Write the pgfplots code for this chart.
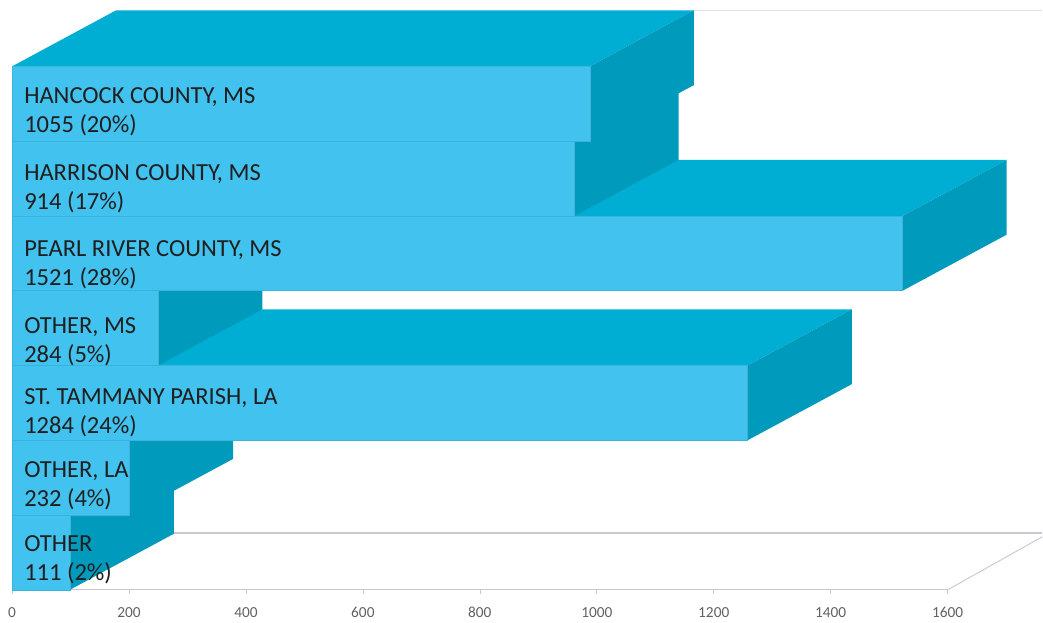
\documentclass[border=0pt]{standalone}
\usepackage{fontspec}
\setmainfont{Carlito}
\usepackage{pgfplots}
\pgfplotsset{compat=1.18}
\definecolor{barfront}{HTML}{42C2EE}
\definecolor{bartop}{HTML}{00AED4}
\definecolor{barside}{HTML}{009ABC}
\definecolor{wall}{HTML}{C8C8D2}
\pgfplotsset{
  front/.style={fill=barfront,draw=barfront!92!black,line width=0.4pt},
  top/.style={fill=bartop,draw=none},
  side/.style={fill=barside,draw=none},
}
\begin{document}
\begin{tikzpicture}
\begin{axis}[
    anchor=origin,
    at={(0pt,0pt)},
    scale only axis,
    width=773.25pt, height=442.5pt,
    xmin=0, xmax=1762.4,
    ymin=0, ymax=7.888,
    axis x line=bottom,
    axis y line=none,
    x axis line style={draw=none,-},
    xtick={0,200,400,600,800,1000,1200,1400,1600},
    tick align=outside,
    major tick length=3pt,
    tick style={wall,line width=0.5pt},
    x tick label style={font=\fontsize{11.5}{13}\selectfont,text=black!62,yshift=-6.5pt},
    /pgf/number format/1000 sep={},
    /pgf/number format/assume math mode=true,
    clip=false,
]
% wall and floor lines
\addplot[wall,line width=0.9pt] coordinates {(0,0) (1600,0)};
\addplot[wall,line width=0.7pt] coordinates {(1600,0) (1762,0.71)};
\addplot[wall,line width=0.9pt] coordinates {(277,0.76) (1762,0.76)};
\addplot[black!12,line width=0.7pt] coordinates {(1166,7.75) (1762,7.75)};

% OTHER
\addplot[top] coordinates {(0,1) (178,1.75) (277,1.75) (99,1)} -- cycle;
\addplot[side] coordinates {(99,1) (277,1.75) (277,0.75) (99,0)} -- cycle;
\addplot[front] coordinates {(0,0) (99,0) (99,1) (0,1)} -- cycle;
% OTHER, LA
\addplot[top] coordinates {(0,2) (178,2.75) (378,2.75) (200,2)} -- cycle;
\addplot[side] coordinates {(200,2) (378,2.75) (378,1.75) (200,1)} -- cycle;
\addplot[front] coordinates {(0,1) (200,1) (200,2) (0,2)} -- cycle;
% ST. TAMMANY PARISH, LA
\addplot[top] coordinates {(0,3) (178,3.75) (1436,3.75) (1258,3)} -- cycle;
\addplot[side] coordinates {(1258,3) (1436,3.75) (1436,2.75) (1258,2)} -- cycle;
\addplot[front] coordinates {(0,2) (1258,2) (1258,3) (0,3)} -- cycle;
% OTHER, MS
\addplot[top] coordinates {(0,4) (178,4.75) (428,4.75) (250,4)} -- cycle;
\addplot[side] coordinates {(250,4) (428,4.75) (428,3.75) (250,3)} -- cycle;
\addplot[front] coordinates {(0,3) (250,3) (250,4) (0,4)} -- cycle;
% PEARL RIVER COUNTY, MS
\addplot[top] coordinates {(0,5) (178,5.75) (1701,5.75) (1523,5)} -- cycle;
\addplot[side] coordinates {(1523,5) (1701,5.75) (1701,4.75) (1523,4)} -- cycle;
\addplot[front] coordinates {(0,4) (1523,4) (1523,5) (0,5)} -- cycle;
% HARRISON COUNTY, MS
\addplot[top] coordinates {(0,6) (178,6.75) (1140,6.75) (962,6)} -- cycle;
\addplot[side] coordinates {(962,6) (1140,6.75) (1140,5.75) (962,5)} -- cycle;
\addplot[front] coordinates {(0,5) (962,5) (962,6) (0,6)} -- cycle;
% HANCOCK COUNTY, MS
\addplot[top] coordinates {(0,7) (178,7.75) (1166,7.75) (988,7)} -- cycle;
\addplot[side] coordinates {(988,7) (1166,7.75) (1166,6.75) (988,6)} -- cycle;
\addplot[front] coordinates {(0,6) (988,6) (988,7) (0,7)} -- cycle;

\tikzset{lab/.style={anchor=west,align=left,inner sep=0pt,text=black!88,
  font=\fontsize{18.4}{21.9}\selectfont}}
\node[lab] at (axis cs:20.5,6.392) {HANCOCK COUNTY, MS\\1055 (20\%)};
\node[lab] at (axis cs:20.5,5.365) {HARRISON COUNTY, MS\\914 (17\%)};
\node[lab] at (axis cs:20.5,4.352) {PEARL RIVER COUNTY, MS\\1521 (28\%)};
\node[lab] at (axis cs:20.5,3.318) {OTHER, MS\\284 (5\%)};
\node[lab] at (axis cs:20.5,2.365) {ST. TAMMANY PARISH, LA\\1284 (24\%)};
\node[lab] at (axis cs:20.5,1.392) {OTHER, LA\\232 (4\%)};
\node[lab] at (axis cs:20.5,0.399) {OTHER\\111 (2\%)};
\end{axis}
\path[use as bounding box] (-9pt,-24pt) rectangle (773.25pt,442.5pt);
\end{tikzpicture}
\end{document}
